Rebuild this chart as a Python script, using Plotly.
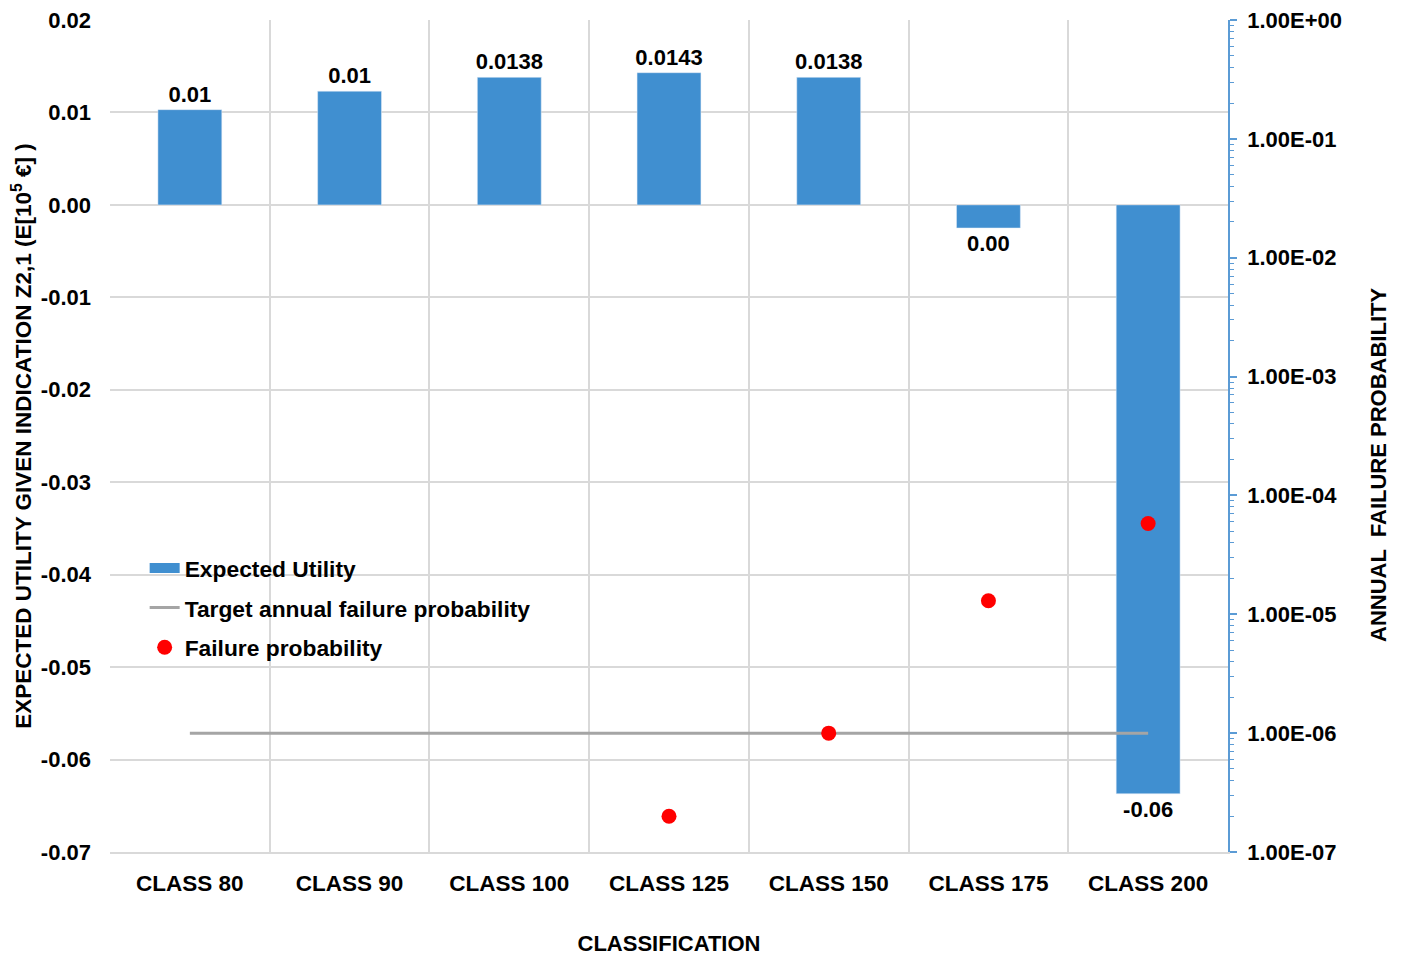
import plotly.graph_objects as go

categories = ["CLASS 80", "CLASS 90", "CLASS 100", "CLASS 125", "CLASS 150", "CLASS 175", "CLASS 200"]
expected_utility = [0.0103, 0.0123, 0.0138, 0.0143, 0.0138, -0.0025, -0.0637]
utility_labels = ["0.01", "0.01", "0.0138", "0.0143", "0.0138", "0.00", "-0.06"]
target_prob = [1e-6, 1e-6, 1e-6, 1e-6, 1e-6, 1e-6, 1e-6]
failure_prob = [None, None, None, 2.0e-7, 1.0e-6, 1.3e-5, 5.8e-5]
left_tickvals = [0.02, 0.01, 0.0, -0.01, -0.02, -0.03, -0.04, -0.05, -0.06, -0.07]
left_ticktext = ["0.02", "0.01", "0.00", "-0.01", "-0.02", "-0.03", "-0.04", "-0.05", "-0.06", "-0.07"]
right_tickvals = [1e-7, 1e-6, 1e-5, 1e-4, 1e-3, 1e-2, 1e-1, 1e0]
right_ticktext = ["1.00E-07", "1.00E-06", "1.00E-05", "1.00E-04", "1.00E-03", "1.00E-02", "1.00E-01", "1.00E+00"]

FONT = "Arial, Liberation Sans, sans-serif"
BLUE = "#408FD0"
AXBLUE = "#5B9BD5"
GRID = "#D9D9D9"

fig = go.Figure()
fig.add_trace(go.Bar(
    x=categories, y=expected_utility, name="Expected Utility",
    marker=dict(color=BLUE), width=0.4, showlegend=False,
    text=utility_labels, textposition="outside", constraintext="none",
    textfont=dict(family=FONT, size=22, color="black", weight="bold"),
    cliponaxis=False,
))
# legend entry for the bars (wide rectangle swatch)
fig.add_trace(go.Scatter(
    x=[None], y=[None], name="Expected Utility", legendgroup="a",
    mode="lines", line=dict(color=BLUE, width=11),
))
fig.add_trace(go.Scatter(
    x=categories, y=target_prob, name="Target annual failure probability",
    legendgroup="b",
    mode="lines", line=dict(color="#A5A5A5", width=3), yaxis="y2",
))
fig.add_trace(go.Scatter(
    x=categories, y=failure_prob, name="Failure probability", legendgroup="c",
    mode="markers", marker=dict(color="#FF0000", size=15), yaxis="y2",
))

fig.update_layout(
    width=1394, height=948,
    margin=dict(l=102, r=174, t=12, b=104, autoexpand=False),
    plot_bgcolor="white", paper_bgcolor="white",
    font=dict(family=FONT, size=22, color="black"),
    bargap=0.6,
    legend=dict(
        x=0.031, y=0.367, xanchor="left", yanchor="top",
        bgcolor="rgba(0,0,0,0)",
        font=dict(family=FONT, size=22.8, color="black", weight="bold"),
        tracegroupgap=7, itemwidth=30,
    ),
    xaxis=dict(
        type="category", tickson="boundaries", showgrid=True, gridcolor=GRID, gridwidth=2,
        ticks="", showline=True, linecolor=GRID, linewidth=2, automargin=False,
        ticklabelstandoff=10,
        tickfont=dict(family=FONT, size=22.5, color="black", weight="bold"),
        title=dict(text="CLASSIFICATION", standoff=42,
                   font=dict(family=FONT, size=22, color="black", weight="bold")),
    ),
    yaxis=dict(
        range=[-0.07, 0.02], tickmode="array", tickvals=left_tickvals, ticktext=left_ticktext,
        showgrid=True, gridcolor=GRID, gridwidth=2,
        zeroline=True, zerolinecolor=GRID, zerolinewidth=2,
        showline=False, ticks="", ticklabelstandoff=18, automargin=False,
        ticklabeloverflow="allow",
        tickfont=dict(family=FONT, size=22, color="black", weight="bold"),
        title=dict(text="EXPECTED UTILITY GIVEN INDICATION Z2,1 (E[10<sup>5</sup> €] )",
                   standoff=8,
                   font=dict(family=FONT, size=22.5, color="black", weight="bold")),
    ),
    yaxis2=dict(
        type="log", range=[-7, 0], overlaying="y", side="right",
        tickmode="array", tickvals=right_tickvals, ticktext=right_ticktext,
        showgrid=False, zeroline=False, automargin=False,
        ticklabeloverflow="allow",
        showline=True, linecolor=AXBLUE, linewidth=1.5,
        ticks="outside", ticklen=7, tickcolor=AXBLUE, tickwidth=1.5,
        minor=dict(ticks="outside", ticklen=4, tickcolor=AXBLUE, tickwidth=1,
                   dtick="D1", showgrid=False),
        ticklabelstandoff=6,
        tickfont=dict(family=FONT, size=22, color="black", weight="bold"),
    ),
    annotations=[dict(
        text="ANNUAL  FAILURE PROBABILITY", textangle=-90,
        xref="paper", yref="paper", x=1.134, y=0.465,
        xanchor="center", yanchor="middle", showarrow=False,
        font=dict(family=FONT, size=22, color="black", weight="bold"),
    )],
)

fig.write_html("out.html")
